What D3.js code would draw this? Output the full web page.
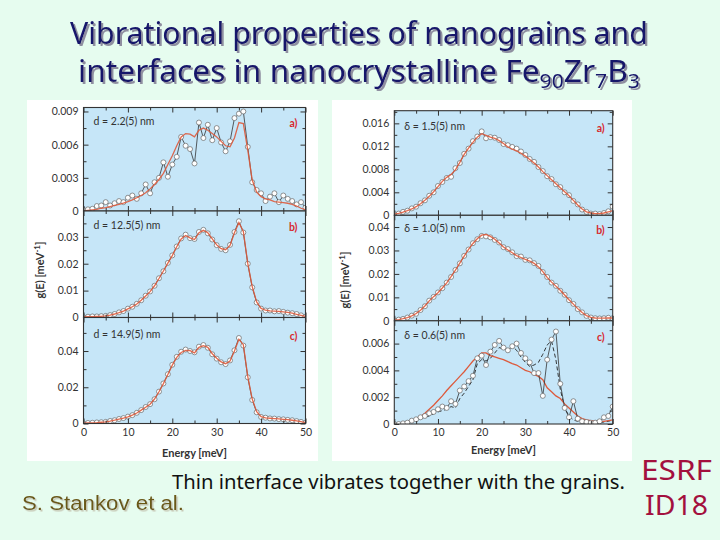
<!DOCTYPE html>
<html>
<head>
<meta charset="utf-8">
<script src="https://cdn.jsdelivr.net/npm/d3@7"></script>
<style>
  body { margin: 0; background: #e6fcef; }
  svg { display: block; }
</style>
</head>
<body>
<svg id="slide" width="720" height="540"></svg>
<script>
// energy grid [meV]
const energy = [0,1,2,3,4,5,6,7,8,9,10,11,12,13,14,15,16,17,18,19,20,21,22,23,24,25,
  26,27,28,29,30,31,32,33,34,35,36,37,38,39,40,41,42,43,44,45,46,47,48,49,50];

// all g(E) values below in units of 1e-3 meV^-1
// left figure: nanograins of size d
const grainA_fit = [0,0.05,0.1,0.15,0.25,0.3,0.4,0.5,0.6,0.72,0.85,1.0,1.2,1.4,1.65,2.0,2.4,2.85,3.4,4.2,
  5.0,5.9,6.7,7.0,6.95,6.7,7.3,7.5,7.3,7.0,6.7,6.3,5.9,5.8,6.6,8.0,7.9,5.5,2.8,1.7,
  1.3,1.1,1.0,0.85,0.8,0.75,0.7,0.6,0.45,0.25,0.1];
const grainA_data = [0.1,0.15,0.2,0.45,0.5,0.8,0.5,0.7,0.9,0.8,1.2,1.4,1.1,1.6,2.4,1.6,2.6,3.0,4.4,3.1,
  4.2,4.9,6.7,5.9,5.6,4.3,8.0,6.6,7.8,6.4,7.5,6.2,5.4,6.3,8.4,8.8,9.0,5.8,2.6,1.9,
  1.6,0.9,1.3,1.6,0.8,1.4,1.1,0.9,0.6,0.8,0.3];
const grainB_fit = [0.2,0.3,0.35,0.4,0.45,0.6,0.9,1.3,1.8,2.4,3.2,4.0,5.0,6.4,8.0,9.6,11.8,14.5,17.3,20.2,
  23.0,26.3,29.2,30.5,29.6,29.0,31.5,32.4,31.5,29.2,27.0,25.6,25.2,26.8,31.5,35.3,32.0,20.1,11.5,5.8,
  3.4,2.7,2.5,2.4,2.3,2.1,1.9,1.6,1.2,0.8,0.4];
const grainB_data = [0.1,0.3,0.4,0.4,0.5,0.6,0.9,1.3,1.9,2.4,3.3,4.0,5.1,6.4,8.1,9.7,11.8,14.6,17.2,20.3,
  23.1,26.4,29.4,30.8,29.5,29.2,31.8,32.6,31.3,29.0,26.9,25.5,25.0,27.0,31.8,35.8,31.6,20.0,11.2,5.6,
  3.3,2.6,2.6,2.3,2.4,2.1,1.8,1.6,1.3,0.8,0.3];
const grainC_fit = [0.2,0.3,0.4,0.5,0.7,0.9,1.3,1.8,2.4,3.0,3.7,4.6,5.8,7.4,9.0,10.6,13.5,17.5,22.0,27.0,
  32.2,36.5,39.2,40.3,40.2,39.0,42.0,43.0,42.0,38.5,36.0,34.0,33.0,34.5,40.0,46.5,43.5,25.9,13.5,6.5,
  3.8,3.1,2.9,2.7,2.5,2.3,2.1,1.8,1.4,1.0,0.5];
const grainC_data = [0.1,0.3,0.4,0.6,0.7,0.9,1.4,1.8,2.5,3.0,3.8,4.6,5.9,7.4,9.1,10.7,13.4,17.6,22.1,27.2,
  32.4,36.8,39.6,40.8,40.0,39.3,42.4,43.3,41.8,38.2,35.8,33.8,32.8,34.8,40.4,47.2,43.0,25.5,13.0,6.2,
  3.6,3.2,2.8,2.7,2.4,2.3,2.0,1.8,1.3,0.9,0.4];

// right figure: interfaces of thickness delta
const ifaceA_fit = [0.2,0.35,0.55,0.8,1.1,1.5,2.0,2.6,3.3,4.1,5.0,5.9,6.6,7.1,7.9,9.2,10.6,11.7,12.7,13.6,
  14.2,13.9,13.6,13.4,13.0,12.5,11.9,11.5,11.2,10.8,10.3,9.7,9.1,8.4,7.6,6.9,6.2,5.5,4.8,4.1,
  3.4,2.6,1.8,1.1,0.6,0.4,0.3,0.3,0.4,0.6,0.8];
const ifaceA_data = [0.2,0.3,0.6,0.8,1.2,1.5,2.1,2.6,3.4,4.0,5.1,5.8,6.5,6.7,8.2,9.1,10.7,11.6,12.9,13.7,
  14.6,13.4,13.6,13.5,13.1,12.4,12.2,11.9,11.6,11.1,10.5,9.8,9.3,8.4,7.7,6.8,6.3,5.4,4.9,4.0,
  3.5,2.5,1.9,1.0,0.6,0.3,0.3,0.2,0.4,0.7,1.5];
const ifaceB_fit = [0.3,0.5,0.9,1.4,2.1,3.1,4.5,6.3,8.5,10.3,12.0,14.0,16.2,18.8,21.6,24.6,27.6,30.5,33.0,35.0,
  36.5,36.8,36.0,34.8,33.2,31.5,30.2,29.0,27.8,27.0,26.2,25.5,24.5,23.0,21.0,18.5,16.5,14.8,13.0,11.0,
  9.0,7.1,5.2,3.5,2.2,1.5,1.2,1.1,1.1,1.2,1.2];
const ifaceB_data = [0.2,0.5,0.8,1.4,2.2,3.0,4.6,6.2,8.6,10.2,12.1,13.9,16.3,18.7,21.7,24.5,27.7,30.4,33.1,34.8,
  36.2,36.0,35.6,34.5,33.4,31.4,30.6,29.2,27.6,27.4,26.0,25.8,24.6,23.4,20.8,18.7,16.3,14.9,12.8,11.1,
  8.8,7.2,5.0,3.6,2.1,1.4,1.1,1.0,1.1,1.3,1.1];
const ifaceC_fit = [0,0.05,0.1,0.15,0.25,0.4,0.55,0.8,1.1,1.4,1.75,2.1,2.5,2.85,3.2,3.55,3.9,4.3,4.7,5.0,
  5.3,5.3,5.1,5.0,4.9,4.8,4.65,4.5,4.4,4.2,4.0,3.9,3.7,3.55,3.3,2.7,2.4,2.1,1.9,1.5,
  1.2,0.9,0.6,0.4,0.3,0.25,0.2,0.2,0.2,0.25,0.3];
const ifaceC_data = [0,0,0.05,0.1,0.25,0.35,0.5,0.6,0.8,0.9,1.1,1.3,1.2,1.7,1.5,2.5,2.8,3.2,3.6,4.9,
  5.1,4.4,5.4,5.9,6.2,5.7,5.5,5.8,6.0,5.3,4.9,4.6,3.8,3.8,2.1,4.8,6.3,6.9,3.0,1.2,
  0.5,1.7,0.4,0.2,0.15,0.1,0.1,0.2,0.5,0.6,1.3];
const ifaceC_dashed = [0,0,0.05,0.1,0.2,0.3,0.4,0.5,0.6,0.75,0.9,1.0,1.1,1.3,1.2,1.9,2.3,2.8,3.3,4.5,
  4.8,4.7,4.9,5.3,5.7,5.6,5.5,5.8,5.5,5.0,4.6,4.3,4.4,4.6,5.2,5.9,6.2,4.8,2.6,1.2,
  0.6,0.3,0.2,0.2,0.15,0.1,0.1,0.1,0.15,0.2,0.3];

// tick labels
const xTicks = [0, 10, 20, 30, 40, 50];
const grainNotes = ["d = 2.2(5) nm", "d = 12.5(5) nm", "d = 14.9(5) nm"];
const ifaceNotes = ["\u03b4 = 1.5(5) nm", "\u03b4 = 1.0(5) nm", "\u03b4 = 0.6(5) nm"];
const panelTags = ["a)", "b)", "c)"];

const svg = d3.select("#slide");
const plotFont = "Lato, 'DejaVu Sans', sans-serif";

// drop shadows for the slide texts
const defs = svg.append("defs");
defs.append("filter").attr("id", "shadowTitle")
  .append("feDropShadow").attr("dx", 2).attr("dy", 2).attr("stdDeviation", 0.3)
  .attr("flood-color", "#8f8fa0").attr("flood-opacity", 1);
defs.append("filter").attr("id", "shadowAuthor")
  .append("feDropShadow").attr("dx", 1.5).attr("dy", 1.5).attr("stdDeviation", 0.3)
  .attr("flood-color", "#c4c4b0").attr("flood-opacity", 1);

function zip(vals) {
  return energy.map((e, i) => ({e: e, v: vals[i]}));
}

function drawFigure(fig) {
  // white card behind the figure
  svg.append("rect")
    .attr("x", fig.box[0]).attr("y", fig.box[1])
    .attr("width", fig.box[2]).attr("height", fig.box[3])
    .attr("fill", "#ffffff");

  const x = d3.scaleLinear().domain([0, 50]).range(fig.xr);

  fig.panels.forEach((p, k) => {
    const y = d3.scaleLinear().domain(p.domain).range([p.bottom, p.top]);
    const g = svg.append("g");

    g.append("rect")
      .attr("x", fig.xr[0]).attr("y", p.top)
      .attr("width", fig.xr[1] - fig.xr[0]).attr("height", p.bottom - p.top)
      .attr("fill", "#c6e6f8");

    g.append("clipPath").attr("id", "clip" + fig.id + k)
      .append("rect")
      .attr("x", fig.xr[0]).attr("y", p.top)
      .attr("width", fig.xr[1] - fig.xr[0]).attr("height", p.bottom - p.top);

    const line = d3.line().x(d => x(d.e)).y(d => y(d.v));
    const plot = g.append("g").attr("clip-path", `url(#clip${fig.id}${k})`);

    if (p.dashed) {
      plot.append("path").datum(zip(p.dashed))
        .attr("d", line).attr("fill", "none")
        .attr("stroke", "#222").attr("stroke-width", 0.9)
        .attr("stroke-dasharray", "4,2.5");
    }
    if (p.fitBelow) {
      plot.append("path").datum(zip(p.fit))
        .attr("d", line).attr("fill", "none")
        .attr("stroke", "#dd5a3c").attr("stroke-width", 1.3);
    }
    plot.append("path").datum(zip(p.data))
      .attr("d", line).attr("fill", "none")
      .attr("stroke", "#333").attr("stroke-width", 0.8);
    plot.selectAll("circle").data(zip(p.data)).join("circle")
      .attr("cx", d => x(d.e)).attr("cy", d => y(d.v))
      .attr("r", 2.5)
      .attr("fill", "#ffffff").attr("stroke", "#666").attr("stroke-width", 0.7);
    if (!p.fitBelow) {
      plot.append("path").datum(zip(p.fit))
        .attr("d", line).attr("fill", "none")
        .attr("stroke", "#dd5a3c").attr("stroke-width", 1.3).attr("stroke-opacity", 0.9);
    }

    // axes, ticks pointing inward on all four sides
    const styleAxis = sel => {
      sel.select(".domain").remove();
      sel.selectAll(".tick line").attr("stroke", "#333").attr("stroke-width", 1);
      sel.selectAll("text").attr("font-family", plotFont).attr("font-size", 10.5).attr("fill", "#333");
    };
    g.append("g").attr("transform", `translate(${fig.xr[0]},0)`)
      .call(d3.axisLeft(y).tickValues(p.ticks).tickSize(-5).tickPadding(5)
        .tickFormat(v => v === 0 ? "0" : d3.format(p.fmt)(v / 1000)))
      .call(styleAxis);
    g.append("g").attr("transform", `translate(${fig.xr[0]},0)`)
      .call(d3.axisLeft(y).tickValues(p.minor).tickSize(-3).tickFormat(""))
      .call(styleAxis);
    g.append("g").attr("transform", `translate(${fig.xr[1]},0)`)
      .call(d3.axisRight(y).tickValues(p.ticks).tickSize(-5).tickFormat(""))
      .call(styleAxis);
    g.append("g").attr("transform", `translate(${fig.xr[1]},0)`)
      .call(d3.axisRight(y).tickValues(p.minor).tickSize(-3).tickFormat(""))
      .call(styleAxis);

    const last = k === fig.panels.length - 1;
    g.append("g").attr("transform", `translate(0,${p.bottom})`)
      .call(d3.axisBottom(x).tickValues(xTicks).tickSize(-5).tickPadding(5)
        .tickFormat(last ? d3.format("d") : ""))
      .call(styleAxis);
    g.append("g").attr("transform", `translate(0,${p.bottom})`)
      .call(d3.axisBottom(x).tickValues([5, 15, 25, 35, 45]).tickSize(-3).tickFormat(""))
      .call(styleAxis);
    g.append("g").attr("transform", `translate(0,${p.top})`)
      .call(d3.axisTop(x).tickValues(xTicks).tickSize(-5).tickFormat(""))
      .call(styleAxis);
    g.append("g").attr("transform", `translate(0,${p.top})`)
      .call(d3.axisTop(x).tickValues([5, 15, 25, 35, 45]).tickSize(-3).tickFormat(""))
      .call(styleAxis);

    g.append("rect")
      .attr("x", fig.xr[0]).attr("y", p.top)
      .attr("width", fig.xr[1] - fig.xr[0]).attr("height", p.bottom - p.top)
      .attr("fill", "none").attr("stroke", "#333").attr("stroke-width", 1.1);

    g.append("text")
      .attr("x", fig.xr[0] + 10).attr("y", p.top + p.noteDy)
      .attr("font-family", plotFont).attr("font-size", 10.5).attr("fill", "#333")
      .text(fig.notes[k]);
    g.append("text")
      .attr("x", fig.xr[1] - 8).attr("y", p.top + p.noteDy + 2)
      .attr("text-anchor", "end")
      .attr("font-family", plotFont).attr("font-size", 10.5).attr("font-weight", "bold")
      .attr("fill", "#d8282e")
      .text(panelTags[k]);
  });

  const lastP = fig.panels[fig.panels.length - 1];
  svg.append("text")
    .attr("x", (fig.xr[0] + fig.xr[1]) / 2).attr("y", lastP.bottom + fig.xLabelDy)
    .attr("text-anchor", "middle")
    .attr("font-family", plotFont).attr("font-size", 11).attr("font-weight", "bold").attr("fill", "#333")
    .text("Energy [meV]");

  const yl = svg.append("text")
    .attr("transform", `translate(${fig.yLabel[0]},${fig.yLabel[1]}) rotate(-90)`)
    .attr("text-anchor", "middle")
    .attr("font-family", plotFont).attr("font-size", 11).attr("font-weight", "bold").attr("fill", "#333");
  yl.append("tspan").text("g(E) [meV");
  yl.append("tspan").attr("dy", -4).attr("font-size", 8).text("-1");
  yl.append("tspan").attr("dy", 4).text("]");
}

drawFigure({
  id: "L", box: [27, 100, 291, 361], xr: [83.5, 305.5],
  yLabel: [44, 270], xLabelDy: 33, notes: grainNotes,
  panels: [
    {top: 107.5, bottom: 211, domain: [0, 9.36], ticks: [0, 3, 6, 9], minor: [1.5, 4.5, 7.5],
     fmt: ".3f", fit: grainA_fit, data: grainA_data, noteDy: 17},
    {top: 211, bottom: 317.5, domain: [0, 39.6], ticks: [0, 10, 20, 30], minor: [5, 15, 25, 35],
     fmt: ".2f", fit: grainB_fit, data: grainB_data, noteDy: 18},
    {top: 317.5, bottom: 423.5, domain: [0, 58.5], ticks: [0, 20, 40], minor: [10, 30, 50],
     fmt: ".2f", fit: grainC_fit, data: grainC_data, noteDy: 20}
  ]
});

drawFigure({
  id: "R", box: [332, 100, 300, 361], xr: [394.3, 612.7],
  yLabel: [349, 280], xLabelDy: 30, notes: ifaceNotes,
  panels: [
    {top: 110.7, bottom: 215.3, domain: [0, 18.2], ticks: [0, 4, 8, 12, 16], minor: [2, 6, 10, 14, 18],
     fmt: ".3f", fit: ifaceA_fit, data: ifaceA_data, noteDy: 19},
    {top: 215.3, bottom: 320.8, domain: [0, 45], ticks: [0, 10, 20, 30, 40], minor: [5, 15, 25, 35],
     fmt: ".2f", fit: ifaceB_fit, data: ifaceB_data, noteDy: 17},
    {top: 320.8, bottom: 424, domain: [0, 7.7], ticks: [0, 2, 4, 6], minor: [1, 3, 5, 7],
     fmt: ".3f", fit: ifaceC_fit, data: ifaceC_data, dashed: ifaceC_dashed, fitBelow: true, noteDy: 18}
  ]
});

// slide title and captions
const titleFont = "'Comic Sans MS', 'Noto Sans', sans-serif";
svg.append("text")
  .attr("x", 70).attr("y", 44)
  .attr("font-family", titleFont).attr("font-size", 30).attr("fill", "#16166b")
  .attr("filter", "url(#shadowTitle)")
  .attr("textLength", 578).attr("lengthAdjust", "spacingAndGlyphs")
  .text("Vibrational properties of nanograins and");

const t2 = svg.append("text")
  .attr("x", 78).attr("y", 82)
  .attr("font-family", titleFont).attr("font-size", 30).attr("fill", "#16166b")
  .attr("filter", "url(#shadowTitle)")
  .attr("textLength", 562).attr("lengthAdjust", "spacingAndGlyphs");
t2.append("tspan").text("interfaces in nanocrystalline Fe");
t2.append("tspan").attr("font-size", 20).attr("dy", 6).text("90");
t2.append("tspan").attr("dy", -6).text("Zr");
t2.append("tspan").attr("font-size", 20).attr("dy", 6).text("7");
t2.append("tspan").attr("dy", -6).text("B");
t2.append("tspan").attr("font-size", 20).attr("dy", 6).text("3");

svg.append("text")
  .attr("x", 172).attr("y", 489)
  .attr("font-family", titleFont).attr("font-size", 20).attr("fill", "#111")
  .attr("textLength", 453).attr("lengthAdjust", "spacingAndGlyphs")
  .text("Thin interface vibrates together with the grains.");

svg.append("text")
  .attr("x", 22).attr("y", 510)
  .attr("font-family", "'Liberation Sans', Arial, sans-serif").attr("font-size", 20)
  .attr("fill", "#6a5818").attr("filter", "url(#shadowAuthor)")
  .attr("textLength", 162).attr("lengthAdjust", "spacingAndGlyphs")
  .text("S. Stankov et al.");

svg.append("text")
  .attr("x", 641).attr("y", 480)
  .attr("font-family", titleFont).attr("font-size", 28).attr("fill", "#a3103e")
  .attr("textLength", 71).attr("lengthAdjust", "spacingAndGlyphs")
  .text("ESRF");
svg.append("text")
  .attr("x", 645).attr("y", 515)
  .attr("font-family", titleFont).attr("font-size", 28).attr("fill", "#a3103e")
  .attr("textLength", 63).attr("lengthAdjust", "spacingAndGlyphs")
  .text("ID18");
</script>
</body>
</html>
